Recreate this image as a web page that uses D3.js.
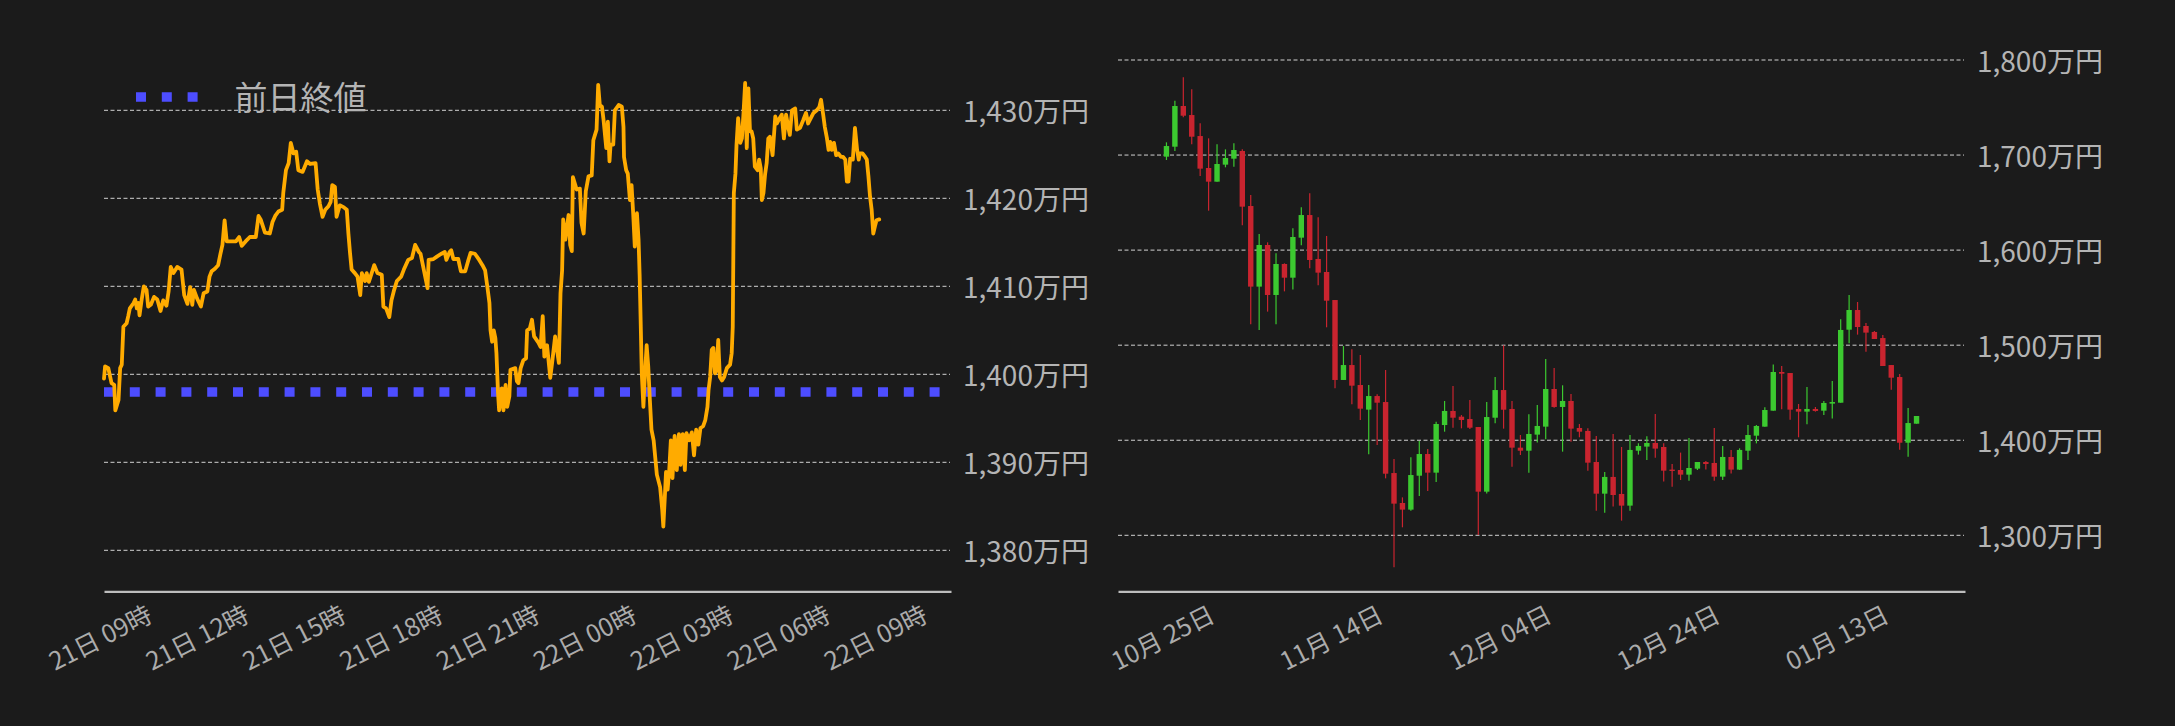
<!DOCTYPE html>
<html><head><meta charset="utf-8">
<script src="https://cdn.jsdelivr.net/npm/d3@7"></script>
<style>
html,body{margin:0;padding:0;background:#1b1b1b;}
svg{display:block;}
</style></head><body>
<svg id="c" width="2175" height="726"></svg>
<script>
// ---------- intraday (left) ----------
const intradayStart = "2026-01-21T09:00:00Z";
const lineMinutes = [0,2,8,14,19,21,27,30,33,36,42,45,48,55,58,61,64,66,70,74,79,82,87,93,99,105,110,116,120,124,129,136,144,149,155,160,164,167,173,180,185,192,196,200,206,212,216,220,224,228,245,251,256,263,271,282,287,291,299,308,313,318,324,331,333,338,343,347,352,357,361,369,377,383,393,397,401,406,411,417,421,424,429,432,438,445,451,454,457,460,466,471,476,479,485,488,492,502,508,516,519,524,530,534,539,544,552,557,565,572,578,585,588,593,601,603,612,619,627,633,636,642,645,649,658,663,671,676,681,689,697,703,708,712,716,718,721,724,727,729,732,734,739,742,746,749,753,755,764,767,770,774,779,784,786,791,795,799,807,811,815,818,823,829,833,838,845,848,851,853,857,863,866,869,871,878,884,887,891,895,900,906,909,915,918,921,925,928,933,936,939,941,946,949,956,962,965,966,970,973,977,980,983,986,990,993,995,997,999,1002,1005,1008,1011,1014,1017,1021,1027,1033,1037,1039,1042,1044,1047,1050,1053,1056,1060,1064,1068,1071,1075,1079,1082,1087,1092,1096,1100,1104,1108,1113,1117,1121,1123,1126,1129,1132,1135,1138,1141,1144,1148,1152,1157,1163,1166,1168,1169,1170,1173,1175,1178,1182,1185,1188,1191,1194,1197,1200,1203,1206,1209,1214,1217,1220,1222,1225,1228,1231,1234,1237,1242,1247,1250,1255,1259,1263,1267,1271,1274,1278,1284,1287,1293,1299,1304,1308,1313,1318,1324,1329,1332,1336,1339,1343,1346,1349,1352,1356,1360,1364,1369,1373,1377,1380,1383,1386,1391,1395,1399,1402,1404,1409,1414,1417,1420,1423,1426,1429,1432,1435,1440];
const linePrices = [1399.5,1400.9,1400.7,1399.0,1398.8,1395.9,1397.1,1400.7,1401.1,1405.4,1405.8,1406.6,1407.5,1408.1,1408.5,1407.5,1408.1,1406.7,1408.5,1410.0,1409.6,1407.7,1407.9,1408.8,1408.5,1407.2,1408.4,1407.8,1409.4,1412.2,1411.5,1412.2,1411.9,1409.0,1408.0,1409.9,1407.9,1409.6,1408.6,1407.7,1409.2,1409.4,1411.1,1411.7,1412.0,1412.4,1413.6,1414.7,1417.5,1415.1,1415.1,1415.6,1414.6,1415.1,1415.6,1415.6,1418.0,1417.6,1416.1,1416.0,1417.3,1418.0,1418.5,1418.7,1420.6,1423.2,1424.0,1426.3,1425.1,1425.3,1423.2,1423.0,1424.2,1423.9,1424.0,1421.0,1419.4,1417.9,1418.7,1419.1,1419.6,1421.5,1421.3,1417.9,1419.2,1419.0,1418.7,1416.0,1413.8,1411.9,1411.5,1411.1,1409.0,1411.5,1410.6,1411.5,1410.5,1412.4,1411.5,1411.3,1407.7,1407.5,1406.5,1408.4,1409.6,1410.6,1411.1,1411.9,1413.0,1413.2,1414.7,1413.9,1413.7,1412.2,1409.8,1413.0,1413.1,1413.4,1413.7,1413.9,1413.0,1413.9,1414.1,1413.1,1413.1,1411.7,1411.7,1412.8,1413.8,1413.7,1413.0,1412.4,1411.8,1410.0,1408.1,1405.0,1403.7,1405.0,1404.1,1402.4,1397.8,1395.9,1398.4,1395.9,1398.8,1396.3,1397.5,1400.5,1400.7,1399.2,1399.0,1400.7,1401.6,1401.8,1405.0,1405.2,1406.2,1404.3,1403.6,1403.1,1406.6,1402.0,1403.3,1399.6,1401.6,1404.3,1401.3,1409.2,1411.8,1417.6,1415.3,1418.1,1414.7,1414.0,1422.4,1421.0,1421.1,1417.2,1416.0,1420.8,1422.5,1422.6,1426.6,1427.8,1432.9,1430.6,1430.4,1428.9,1425.7,1428.7,1424.2,1426.1,1426.1,1430.0,1430.6,1430.4,1428.1,1424.7,1423.2,1422.8,1419.8,1421.5,1418.3,1414.5,1418.3,1415.3,1411.3,1405.8,1400.1,1396.3,1400.1,1403.3,1400.9,1397.1,1393.7,1392.5,1388.6,1387.2,1384.6,1382.7,1386.3,1388.9,1386.9,1389.1,1392.5,1388.2,1393.0,1389.1,1393.2,1389.7,1393.2,1389.1,1393.3,1392.5,1393.4,1390.8,1393.7,1392.0,1393.9,1394.1,1394.8,1396.3,1398.2,1399.7,1402.8,1403.0,1400.1,1400.5,1403.9,1399.7,1399.3,1399.7,1400.7,1401.1,1402.4,1405.4,1413.0,1420.6,1422.8,1426.1,1429.1,1426.3,1426.8,1429.7,1433.1,1425.7,1432.5,1427.6,1427.6,1426.8,1423.6,1423.2,1424.4,1423.4,1419.8,1420.6,1422.7,1424.0,1426.8,1427.0,1424.9,1429.3,1428.5,1429.1,1429.5,1426.8,1429.5,1428.1,1427.2,1430.0,1430.2,1427.8,1428.0,1428.9,1429.7,1428.5,1429.1,1429.7,1430.0,1430.4,1431.2,1429.5,1428.1,1426.8,1425.5,1426.4,1425.5,1426.3,1424.9,1425.1,1424.7,1424.7,1424.4,1421.9,1421.9,1424.5,1424.4,1428.0,1425.5,1424.4,1425.1,1425.1,1424.7,1424.4,1422.5,1420.2,1418.7,1416.0,1416.8,1417.5,1417.6];
const prevClose = 1398.0;
const legendLabel = "前日終値";
const lineYTicks = [1380, 1390, 1400, 1410, 1420, 1430];

// ---------- daily candles (right) ----------
const candleStart = "2025-10-25";
const opens  = [1698.3,1708.8,1751.6,1742.1,1720.0,1686.4,1672.0,1689.9,1696.2,1704.3,1646.4,1561.6,1605.4,1552.8,1585.4,1571.0,1613.1,1636.9,1590.7,1577.0,1547.5,1463.4,1479.1,1458.1,1432.2,1446.5,1440.2,1365.5,1334.0,1327.0,1362.7,1385.5,1365.9,1416.0,1430.8,1424.8,1422.3,1413.9,1345.9,1423.7,1452.8,1432.9,1392.2,1389.0,1405.9,1414.3,1453.9,1435.0,1441.3,1412.9,1409.8,1377.1,1343.8,1361.4,1343.5,1331.2,1389.0,1393.3,1397.1,1392.9,1369.1,1368.7,1363.8,1370.1,1377.1,1376.1,1361.7,1382.4,1369.1,1389.0,1404.8,1414.3,1431.1,1471.8,1470.7,1432.9,1430.1,1432.9,1431.1,1438.5,1439.5,1516.3,1537.0,1520.2,1513.9,1507.5,1479.1,1466.5,1397.4,1417.4];
const highs  = [1713.4,1757.2,1781.8,1769.1,1733.4,1717.6,1711.3,1706.0,1712.3,1706.0,1658.0,1617.0,1608.2,1596.6,1586.1,1622.9,1645.0,1659.7,1634.5,1614.9,1547.5,1499.1,1495.6,1489.7,1458.1,1448.3,1473.9,1380.3,1339.9,1382.0,1399.2,1390.8,1419.5,1441.3,1457.1,1426.5,1442.3,1413.9,1440.2,1466.5,1499.8,1441.3,1405.5,1427.3,1437.1,1485.5,1476.0,1457.8,1448.7,1417.1,1412.5,1404.5,1366.6,1406.6,1392.9,1405.5,1396.8,1404.1,1427.6,1396.8,1375.0,1387.0,1402.4,1377.1,1378.2,1412.9,1394.0,1389.8,1391.5,1416.0,1416.0,1434.6,1479.8,1478.1,1470.7,1438.1,1456.0,1435.0,1441.3,1462.3,1527.2,1552.8,1545.4,1523.3,1514.9,1510.7,1479.1,1469.7,1433.9,1425.5];
const lows   = [1694.8,1704.3,1739.7,1711.3,1678.0,1641.5,1672.0,1687.1,1687.8,1626.1,1521.9,1516.0,1535.3,1521.9,1556.6,1558.7,1605.0,1580.8,1563.0,1518.8,1454.6,1463.4,1437.8,1421.3,1385.2,1395.0,1359.9,1266.3,1308.4,1325.9,1341.3,1346.6,1356.1,1409.0,1413.2,1412.5,1411.8,1300.3,1344.1,1417.8,1412.2,1372.2,1384.5,1365.9,1397.5,1401.0,1434.3,1388.0,1398.5,1403.1,1368.0,1325.9,1323.8,1330.2,1315.4,1325.9,1384.9,1379.2,1381.7,1356.5,1351.2,1358.2,1357.5,1368.7,1369.1,1357.5,1358.2,1364.9,1368.7,1379.2,1396.7,1414.3,1431.1,1432.5,1421.6,1403.1,1416.7,1430.1,1426.5,1423.0,1439.5,1501.9,1511.1,1493.2,1506.5,1478.1,1453.2,1390.1,1382.7,1417.4];
const closes = [1709.5,1751.6,1741.4,1719.3,1685.7,1672.0,1690.6,1696.9,1705.3,1645.7,1561.6,1605.4,1552.8,1585.4,1571.0,1613.8,1636.9,1589.6,1576.3,1546.8,1463.4,1479.1,1457.4,1433.2,1446.5,1439.5,1364.8,1333.3,1327.0,1363.4,1385.5,1365.9,1417.1,1430.8,1423.7,1421.3,1413.2,1345.9,1424.4,1452.8,1432.1,1392.2,1389.0,1406.6,1415.0,1453.9,1435.0,1441.3,1412.2,1409.0,1376.4,1343.8,1361.4,1342.4,1331.2,1389.8,1394.0,1397.1,1391.2,1368.0,1367.7,1363.8,1370.8,1377.1,1375.0,1361.7,1382.4,1369.1,1389.8,1405.5,1415.0,1431.8,1471.8,1470.0,1432.2,1430.1,1432.9,1430.8,1439.2,1440.2,1516.0,1537.0,1519.1,1513.2,1506.5,1478.1,1465.8,1397.4,1418.1,1425.5];
const candleYTicks = [1300, 1400, 1500, 1600, 1700, 1800];
const yUnit = "万円";

// ---------- style ----------
const FONT = '"Noto Sans CJK JP","Noto Sans",sans-serif';
const BG = "#1b1b1b", GRID = "#d2d2d2", AXIS = "#bdbdbd", LABEL = "#b4b4b4", TICK = "#ababab";
const ORANGE = "#ffab00", BLUE = "#4d4dff", GREEN = "#3cc930", RED = "#c9242f";

const svg = d3.select("#c");
svg.append("rect").attr("width", 2175).attr("height", 726).attr("fill", BG);
const fmtNum = d3.format(",");

function yGrid(g, scale, ticks, x1, x2, lx) {
  g.selectAll("line.grid").data(ticks).join("line")
    .attr("x1", x1).attr("x2", x2)
    .attr("y1", d => scale(d)).attr("y2", d => scale(d))
    .attr("stroke", GRID).attr("stroke-width", 1).attr("stroke-dasharray", "4,2.5");
  g.selectAll("text.ylab").data(ticks).join("text")
    .attr("x", lx).attr("y", d => scale(d)).attr("dy", "0.42em")
    .attr("font-family", FONT).attr("font-size", 28).attr("fill", LABEL)
    .text(d => fmtNum(d) + yUnit);
}
function styleXAxis(g) {
  g.attr("font-family", FONT).attr("font-size", 25);
  g.select(".domain").attr("stroke", AXIS).attr("stroke-width", 2.2);
  g.selectAll(".tick line").remove();
  g.selectAll(".tick text")
    .attr("y", 0).attr("dy", 0).attr("fill", TICK)
    .attr("text-anchor", "middle")
    .attr("transform", "translate(0,54.5) rotate(-27)");
}

// ---------- left chart ----------
const t0 = new Date(intradayStart);
const lineDates = lineMinutes.map(m => new Date(t0.getTime() + m * 60000));
const xL = d3.scaleUtc().domain([t0, new Date(t0.getTime() + 1573.4 * 60000)]).range([104, 951]);
const yL = d3.scaleLinear().domain([1380, 1430]).range([550.3, 110.3]);

const gL = svg.append("g");
yGrid(gL, yL, lineYTicks, 104, 950, 963);

gL.append("line")
  .attr("x1", 104).attr("x2", 951)
  .attr("y1", yL(prevClose)).attr("y2", yL(prevClose))
  .attr("stroke", BLUE).attr("stroke-width", 9.5).attr("stroke-dasharray", "10,15.8");

const lineGen = d3.line().x((d, i) => xL(lineDates[i])).y(d => yL(d));
gL.append("path").datum(linePrices)
  .attr("d", lineGen).attr("fill", "none")
  .attr("stroke", ORANGE).attr("stroke-width", 3.8)
  .attr("stroke-linejoin", "round").attr("stroke-linecap", "round");

// legend
gL.append("line").attr("x1", 136).attr("x2", 198).attr("y1", 97).attr("y2", 97)
  .attr("stroke", BLUE).attr("stroke-width", 9.5).attr("stroke-dasharray", "10,15.8");
gL.append("text").attr("x", 234.5).attr("y", 109.5)
  .attr("font-family", FONT).attr("font-size", 33).attr("fill", LABEL).text(legendLabel);

const lTicks = d3.utcHour.range(t0, new Date(t0.getTime() + 24 * 3600000 + 1), 3);
gL.append("g").attr("transform", "translate(0,591.3)")
  .call(d3.axisBottom(xL).tickValues(lTicks).tickFormat(d3.utcFormat("%d日 %H時")).tickSize(0).tickSizeOuter(0))
  .call(styleXAxis);

// ---------- right chart ----------
const cStart = new Date(candleStart + "T00:00:00Z");
const cDates = opens.map((_, i) => d3.utcDay.offset(cStart, i));
const xR = d3.scaleUtc()
  .domain([d3.utcHour.offset(cStart, -138), d3.utcHour.offset(cDates[cDates.length - 1], 138)])
  .range([1118, 1965]);
const yR = d3.scaleLinear().domain([1300, 1800]).range([535.3, 60]);

const gR = svg.append("g");
yGrid(gR, yR, candleYTicks, 1118, 1964, 1977);

const candles = cDates.map((d, i) => ({ d, o: opens[i], h: highs[i], l: lows[i], c: closes[i] }));
const cg = gR.selectAll("g.candle").data(candles).join("g");
cg.append("line")
  .attr("x1", d => xR(d.d)).attr("x2", d => xR(d.d))
  .attr("y1", d => yR(d.h)).attr("y2", d => yR(d.l))
  .attr("stroke", d => d.c >= d.o ? GREEN : RED).attr("stroke-width", 1.2);
const bw = 5.4;
cg.append("rect")
  .attr("x", d => xR(d.d) - bw / 2).attr("width", bw)
  .attr("y", d => yR(Math.max(d.o, d.c)))
  .attr("height", d => Math.max(1.2, Math.abs(yR(d.o) - yR(d.c))))
  .attr("fill", d => d.c >= d.o ? GREEN : RED);

const rTicks = cDates.filter((d, i) => i % 20 === 0);
gR.append("g").attr("transform", "translate(0,591.3)")
  .call(d3.axisBottom(xR).tickValues(rTicks).tickFormat(d3.utcFormat("%m月 %d日")).tickSize(0).tickSizeOuter(0))
  .call(styleXAxis);
</script>
</body></html>
